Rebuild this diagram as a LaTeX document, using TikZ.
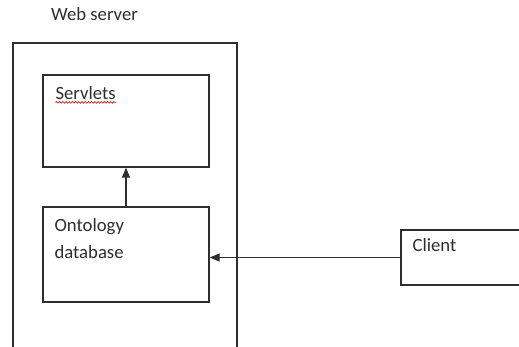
\documentclass[tikz,border=0pt]{standalone}
\usepackage{fontspec}
\setmainfont{Carlito}
\usepackage{tikz}
\usetikzlibrary{positioning, arrows.meta, calc, decorations.pathmorphing}
\definecolor{ink}{HTML}{2E2E2E}
\tikzset{
    every picture/.style={
        x=1pt,
        y=-1pt
    },
    box/.style={
        draw=ink,
        line width=1.2pt,
        rectangle,
        inner sep=0pt
    },
    tag/.style={
        inner sep=0pt,
        text=ink,
        anchor=base west,
        align=left,
        font=\fontsize{18.7}{27}\selectfont
    },
    squiggle/.style={
        draw=red!80!black,
        line width=0.6pt,
        decorate,
        decoration={snake, amplitude=0.9pt, segment length=3.2pt}
    }
}

\begin{document}
\begin{tikzpicture}
            \useasboundingbox (0,0) rectangle (519,347);
            \clip (0,0) rectangle (519,347);

            % Boxes
            \node (server) [
                box,
                minimum width=224,
                minimum height=322,
            ] at (125,204) {};
            \node (servlets) [
                box,
                minimum width=166,
                minimum height=92,
            ] at (126,121) {};
            \node (ontology) [
                box,
                minimum width=166,
                minimum height=95,
            ] at (126,254.5) {};
            \node (client) [
                box,
                minimum width=139,
                minimum height=55,
            ] at (470.5,257.5) {};

            % Texts (base anchor sits on the last line)
            \node (serverText) [tag] at ($(server.north west)+(38.5,-22.3)$) {Web server};
            \node (servletsText) [tag] at ($(servlets.north west)+(13,25)$) {Servlets};
            \node (ontologyText) [tag] at ($(ontology.north west)+(12,52)$) {Ontology\\database};
            \node (clientText) [tag] at ($(client.north west)+(12,22)$) {Client};

            % spell-check underline
            \draw [squiggle] ($(servletsText.base west)+(0,3)$) -- ($(servletsText.base east)+(0,3)$);

            % Edges
            \path [-{Triangle[length=10pt, width=8pt]}, ink, line width=1.2pt]
                (ontology.north) edge (servlets.south)
                (client.west) edge (client.west -| ontology.east)
            ;
\end{tikzpicture}
\end{document}
